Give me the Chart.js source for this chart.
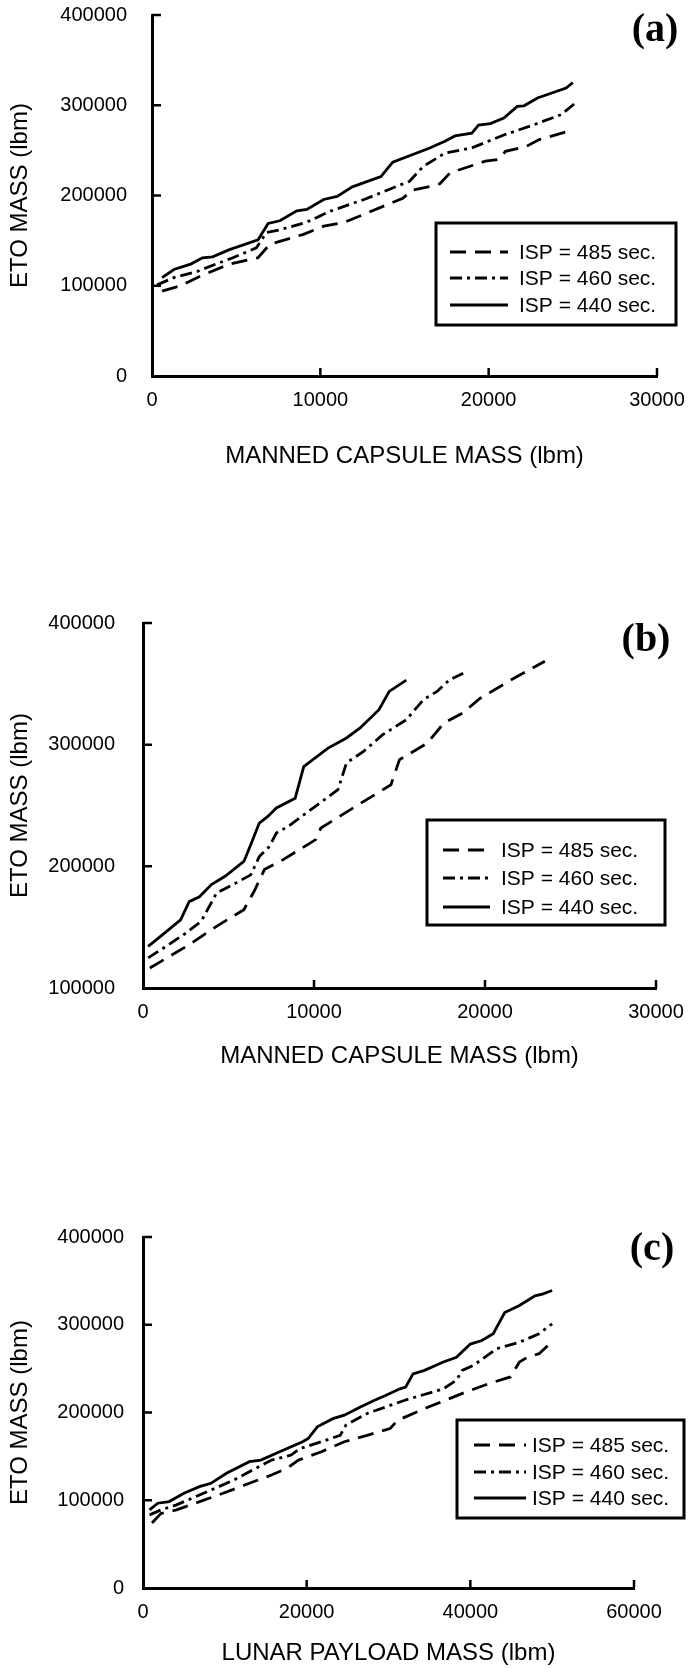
<!DOCTYPE html>
<html>
<head>
<meta charset="utf-8">
<script src="https://cdn.jsdelivr.net/npm/chart.js@4.4.1/dist/chart.umd.min.js"></script>
<style>
  html, body { margin: 0; padding: 0; background: #fff; }
  body { width: 698px; height: 1669px; position: relative; overflow: hidden; }
  canvas { position: absolute; left: 0; }
</style>
</head>
<body>
<canvas id="chartA" width="698" height="490" style="top:0px"></canvas>
<canvas id="chartB" width="698" height="520" style="top:560px"></canvas>
<canvas id="chartC" width="698" height="489" style="top:1180px"></canvas>
<script>
// (a) manned capsule mass vs ETO mass
const capA485 = [600, 1700, 2900, 4600, 6300, 7000, 9000, 10200, 11400, 14900, 15500, 16500, 17100, 17700, 19800, 20600, 21000, 22200, 23000, 24900];
const etoA485 = [94000, 100000, 111000, 124000, 131000, 146000, 157000, 166000, 170000, 197000, 206000, 210000, 213000, 225000, 238000, 240000, 249000, 254000, 262000, 272000];
const capA460 = [300, 1300, 2700, 3800, 4800, 6200, 6800, 7600, 9200, 10600, 12600, 15300, 16100, 17400, 19000, 20900, 22700, 24300, 25100];
const etoA460 = [101000, 109000, 116000, 124000, 131000, 142000, 159000, 162000, 170500, 182700, 195600, 215800, 232000, 247000, 252700, 267000, 278500, 289500, 301700];
const capA440 = [600, 1300, 2300, 3000, 3600, 4600, 6300, 6900, 7600, 8600, 9200, 10200, 11000, 11900, 13600, 14300, 16500, 17400, 18000, 19000, 19400, 20100, 20900, 21700, 22100, 22900, 24600, 25000];
const etoA440 = [109000, 118000, 124000, 131000, 132000, 140000, 151000, 169000, 172000, 183000, 184500, 195600, 199000, 209600, 221000, 237000, 252700, 260000, 266000, 269000, 278000, 279600, 285800, 298700, 299400, 308000, 319000, 325000];

// (b) manned capsule mass vs ETO mass
const capB485 = [400, 1400, 2700, 4300, 5900, 6500, 7100, 8200, 10100, 10400, 12400, 14500, 15000, 16600, 17600, 18700, 19700, 21500, 22600, 23500];
const etoB485 = [116400, 124700, 135600, 150700, 164400, 179500, 197300, 205500, 222000, 231500, 249000, 267000, 287700, 301000, 317800, 326000, 338000, 353000, 361600, 368500];
const capB460 = [300, 1200, 2500, 3400, 4300, 5400, 6300, 6800, 7400, 7800, 8500, 11400, 11900, 12900, 14000, 15400, 16400, 17200, 17900, 18900];
const etoB460 = [124700, 132900, 145000, 154800, 178000, 186000, 193000, 208000, 216400, 227400, 232900, 263000, 285000, 294500, 308000, 320500, 337000, 343800, 353000, 360000];
const capB440 = [300, 900, 2200, 2700, 3300, 4000, 4800, 5900, 6300, 6800, 7300, 7800, 8900, 9400, 10800, 11900, 12700, 13800, 14400, 15400];
const etoB440 = [134200, 141000, 156000, 171000, 175000, 185000, 191800, 204000, 217800, 235600, 241000, 248000, 256000, 282000, 297000, 305500, 313700, 328800, 343800, 353000];

// (c) lunar payload mass vs ETO mass
const payC485 = [1100, 2200, 4100, 6400, 9200, 13000, 15700, 17600, 19000, 21800, 24600, 27400, 30200, 31100, 34800, 39500, 42300, 44900, 46000, 47000, 48400, 49500];
const etoC485 = [74000, 85000, 89000, 96600, 106000, 119300, 128800, 136400, 145800, 155300, 166700, 174000, 181800, 191000, 206000, 223500, 233000, 240500, 257600, 263000, 267000, 276500];
const payC460 = [800, 2200, 4100, 6400, 8800, 11100, 13400, 15700, 18100, 19200, 21800, 24100, 24800, 27400, 32000, 36700, 38300, 39000, 40400, 43200, 46000, 48400, 50000];
const etoC460 = [83300, 89000, 94700, 104000, 113600, 123000, 134500, 145800, 151500, 159000, 166700, 174000, 185600, 198900, 214000, 227000, 236700, 248000, 253800, 272700, 280000, 289800, 301000];
const payC440 = [800, 1800, 3200, 5000, 6900, 8300, 10200, 13000, 14400, 16700, 19500, 20200, 21300, 23200, 24600, 26500, 28300, 29700, 31400, 32100, 33000, 34400, 36700, 38300, 40000, 41400, 42800, 44200, 46000, 47900, 48800, 50000];
const etoC440 = [89000, 96600, 98500, 108000, 115500, 119300, 130700, 144000, 145800, 155300, 166700, 170500, 183700, 193000, 197000, 206000, 214000, 219700, 227000, 229000, 244000, 248000, 257600, 263000, 278000, 282000, 289800, 314000, 322000, 333000, 335000, 339000];

const ispLabels = ['ISP = 485 sec.', 'ISP = 460 sec.', 'ISP = 440 sec.'];
const dashes = [[16, 9], [12, 5, 3, 5], []];

Chart.defaults.font.family = '"Liberation Sans", Arial, sans-serif';
Chart.defaults.color = '#000';

const pairs = (xs, ys) => xs.map((x, i) => ({ x: x, y: ys[i] }));

// inward ticks, panel letter and boxed legend
const decor = {
  id: 'decor',
  afterDraw(chart, args, o) {
    const { ctx, chartArea: a, scales: { x, y } } = chart;
    ctx.save();
    ctx.strokeStyle = '#000';
    ctx.fillStyle = '#000';
    ctx.lineWidth = 2.5;
    ctx.beginPath();
    y.ticks.forEach(t => {
      if (t.value === y.min) return;
      const py = y.getPixelForValue(t.value);
      ctx.moveTo(a.left, py); ctx.lineTo(a.left + 9, py);
    });
    x.ticks.forEach(t => {
      if (t.value === x.min) return;
      const px = x.getPixelForValue(t.value);
      ctx.moveTo(px, a.bottom); ctx.lineTo(px, a.bottom - 8);
    });
    ctx.stroke();

    ctx.font = 'bold 40px "Liberation Serif"';
    ctx.textAlign = 'center';
    ctx.textBaseline = 'middle';
    ctx.fillText(o.letter, o.letterX, o.letterY);

    const L = o.legend;
    ctx.lineWidth = 3;
    ctx.strokeRect(L.x, L.y, L.w, L.h);
    ctx.font = '21px "Liberation Sans"';
    ctx.textAlign = 'left';
    chart.data.datasets.forEach((ds, i) => {
      const ry = L.rows[i];
      ctx.setLineDash(ds.borderDash);
      ctx.lineWidth = ds.borderWidth;
      ctx.beginPath(); ctx.moveTo(L.x0, ry); ctx.lineTo(L.x1, ry); ctx.stroke();
      ctx.setLineDash([]);
      ctx.fillText(ds.label, L.tx, ry + 1);
    });
    ctx.restore();
  }
};

function makePanel(id, p) {
  new Chart(document.getElementById(id), {
    type: 'line',
    data: {
      datasets: p.series.map((s, i) => ({
        label: ispLabels[i],
        data: pairs(s[0], s[1]),
        borderColor: '#000',
        borderWidth: 2.8,
        borderDash: dashes[i],
        pointRadius: 0,
        tension: 0,
        fill: false
      }))
    },
    options: {
      responsive: false,
      animation: false,
      layout: { padding: { left: 0, right: p.padRight, top: p.padTop, bottom: 0 } },
      plugins: {
        legend: { display: false },
        tooltip: { enabled: false },
        decor: p.decor
      },
      scales: {
        x: {
          type: 'linear',
          min: 0, max: p.xMax,
          afterFit: s => { s.height = p.xAxisH; s.paddingLeft = 0; s.paddingRight = 0; },
          grid: { display: false, drawTicks: false },
          border: { display: true, color: '#000', width: 3 },
          ticks: { stepSize: p.xStep, padding: p.xPad, font: { size: 20 }, callback: v => String(v) },
          title: { display: true, text: p.xTitle, font: { size: 24 }, padding: { top: 0, bottom: p.xTitlePad } }
        },
        y: {
          min: p.yMin, max: 400000,
          afterFit: s => { s.width = p.yAxisW; s.paddingTop = 0; s.paddingBottom = 0; },
          grid: { display: false, drawTicks: false },
          border: { display: true, color: '#000', width: 3 },
          ticks: { stepSize: 100000, padding: p.yPad, font: { size: 20 }, callback: v => String(v) },
          title: { display: true, text: 'ETO MASS (lbm)', font: { size: 24 }, padding: { top: 6, bottom: 0 } }
        }
      }
    },
    plugins: [decor]
  });
}

makePanel('chartA', {
  series: [[capA485, etoA485], [capA460, etoA460], [capA440, etoA440]],
  xMax: 30000, xStep: 10000, yMin: 0,
  xTitle: 'MANNED CAPSULE MASS (lbm)',
  padTop: 15, padRight: 41, yAxisW: 152, xAxisH: 114, xTitlePad: 19, yPad: 25, xPad: 12,
  decor: {
    letter: '(a)', letterX: 655, letterY: 31,
    legend: { x: 436, y: 223, w: 240, h: 102, rows: [252, 278, 305], x0: 450, x1: 508, tx: 519 }
  }
});

makePanel('chartB', {
  series: [[capB485, etoB485], [capB460, etoB460], [capB440, etoB440]],
  xMax: 30000, xStep: 10000, yMin: 100000,
  xTitle: 'MANNED CAPSULE MASS (lbm)',
  padTop: 63, padRight: 42, yAxisW: 143, xAxisH: 92, xTitlePad: 9, yPad: 28, xPad: 12,
  decor: {
    letter: '(b)', letterX: 646, letterY: 81,
    legend: { x: 427, y: 260, w: 238, h: 105, rows: [290, 318, 347], x0: 443, x1: 490, tx: 501 }
  }
});

makePanel('chartC', {
  series: [[payC485, etoC485], [payC460, etoC460], [payC440, etoC440]],
  xMax: 60000, xStep: 20000, yMin: 0,
  xTitle: 'LUNAR PAYLOAD MASS (lbm)',
  padTop: 57, padRight: 64, yAxisW: 143, xAxisH: 81, xTitlePad: 1, yPad: 19, xPad: 12,
  decor: {
    letter: '(c)', letterX: 652, letterY: 70,
    legend: { x: 457, y: 240, w: 227, h: 98, rows: [265, 292, 318], x0: 474, x1: 526, tx: 532 }
  }
});
</script>
</body>
</html>
